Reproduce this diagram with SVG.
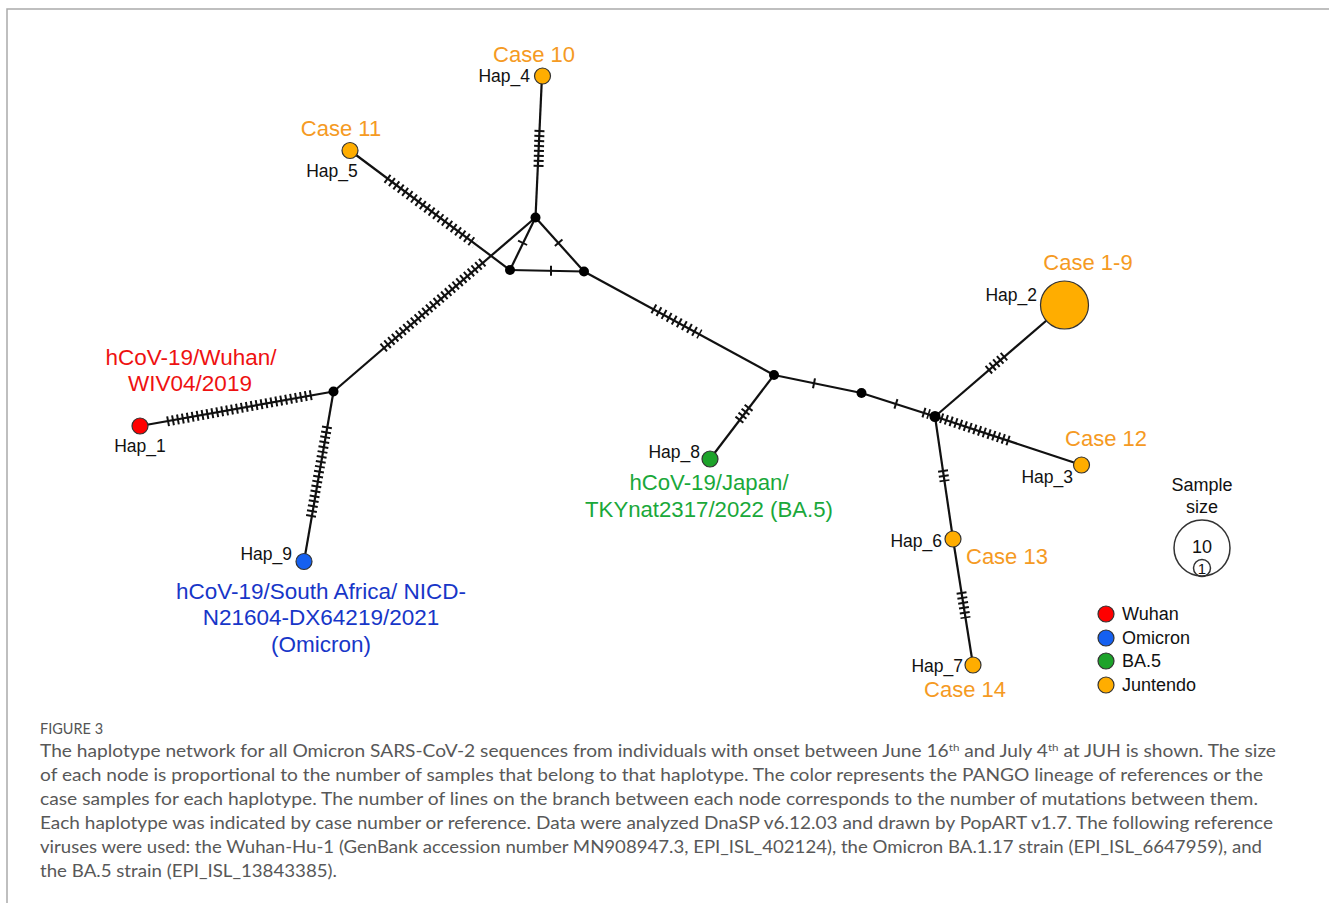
<svg xmlns="http://www.w3.org/2000/svg" width="1329" height="903" viewBox="0 0 1329 903">
<style>
.bg{fill:#fff}
.frame{fill:none;stroke:#aaa;stroke-width:1.5}
.edge{stroke:#111;stroke-width:2.2;fill:none}
.tk{stroke:#111;stroke-width:10;stroke-dasharray:2 3;fill:none}
.tk1{stroke:#111;stroke-width:10;fill:none}
.jn{fill:#000}
.hap{stroke:#333;stroke-width:1.2}
.or{fill:#FFAD00}
.rd{fill:#FF0000}
.bl{fill:#1560F0}
.gr{fill:#1DA32A}
.t{font-family:"Liberation Sans",Arial,sans-serif}
.lab{font-size:17.5px;fill:#111}
.case{font-size:22px;fill:#F59A23}
.red{font-size:22.5px;fill:#EE1111}
.blue{font-size:22.5px;fill:#1736C8}
.green{font-size:22.2px;fill:#1AA83A}
.leg{font-size:18px;fill:#111}
.cap{font-family:Lato,"Open Sans",sans-serif;font-size:16.5px;fill:#585858}
.fig{font-family:Lato,"Open Sans",sans-serif;font-size:14.5px;fill:#555}
</style>
<rect class="bg" x="0" y="0" width="1329" height="903"/>
<path class="frame" d="M7,903 V9 H1329"/>

<g id="connectors">
  <line class="edge" x1="542" y1="76" x2="535.5" y2="217.5"/>
  <line class="edge" x1="350" y1="150.5" x2="510" y2="270"/>
  <line class="edge" x1="535.5" y1="217.5" x2="333.5" y2="391.5"/>
  <line class="edge" x1="535.5" y1="217.5" x2="510" y2="270"/>
  <line class="edge" x1="535.5" y1="217.5" x2="584" y2="271.5"/>
  <line class="edge" x1="510" y1="270" x2="584" y2="271.5"/>
  <line class="edge" x1="333.5" y1="391.5" x2="140" y2="426"/>
  <line class="edge" x1="333.5" y1="391.5" x2="304" y2="561.5"/>
  <line class="edge" x1="584" y1="271.5" x2="774" y2="375"/>
  <line class="edge" x1="774" y1="375" x2="710" y2="459"/>
  <line class="edge" x1="774" y1="375" x2="861.5" y2="393"/>
  <line class="edge" x1="861.5" y1="393" x2="935" y2="416.5"/>
  <line class="edge" x1="935" y1="416.5" x2="1064.5" y2="305"/>
  <line class="edge" x1="935" y1="416.5" x2="1081.5" y2="465"/>
  <line class="edge" x1="935" y1="416.5" x2="953" y2="539"/>
  <line class="edge" x1="953" y1="539" x2="973" y2="665"/>
  <line class="tk" x1="539.5" y1="130" x2="538.5" y2="168"/>
  <line class="tk" style="stroke-dasharray:2 3.5" x1="386.7" y1="178.2" x2="475" y2="244"/>
  <line class="tk" x1="483" y1="262" x2="382" y2="349"/>
  <line class="tk" x1="311.7" y1="395" x2="166.7" y2="421.5"/>
  <line class="tk" x1="327.1" y1="426.4" x2="310.4" y2="519.6"/>
  <line class="tk" style="stroke-dasharray:2 3.8" x1="653" y1="308.4" x2="700" y2="334.3"/>
  <line class="tk" x1="749.2" y1="407" x2="737.6" y2="422"/>
  <line class="tk" x1="988.1" y1="370.4" x2="1004.7" y2="356"/>
  <line class="tk" x1="940.7" y1="417.9" x2="1010.8" y2="441.4"/>
  <line class="tk" x1="942.9" y1="470" x2="944.6" y2="481.5"/>
  <line class="tk" x1="961.4" y1="592" x2="965.6" y2="618.2"/>
  <line class="tk" x1="923" y1="412.3" x2="929.3" y2="414.3"/>
  <line class="tk1" x1="523" y1="242" x2="522.2" y2="243.7"/>
  <line class="tk1" x1="558" y1="241.9" x2="559.3" y2="243.4"/>
  <line class="tk1" x1="550" y1="270.8" x2="552" y2="270.8"/>
  <line class="tk1" x1="813" y1="383.1" x2="815" y2="383.5"/>
  <line class="tk1" x1="895" y1="403.6" x2="896.9" y2="404.2"/>
</g>

<g id="junctions">
  <circle class="jn" cx="535.5" cy="217.5" r="5"/>
  <circle class="jn" cx="510" cy="270" r="5"/>
  <circle class="jn" cx="584" cy="271.5" r="5"/>
  <circle class="jn" cx="333.5" cy="391.5" r="5"/>
  <circle class="jn" cx="774" cy="375" r="5"/>
  <circle class="jn" cx="861.5" cy="393" r="5"/>
  <circle class="jn" cx="935" cy="416.5" r="5.5"/>
</g>

<g id="hap4">
  <circle class="hap or" cx="542.5" cy="76" r="8"/>
  <text class="t case" x="534" y="62" text-anchor="middle">Case 10</text>
  <text class="t lab" x="530" y="82" text-anchor="end">Hap_4</text>
</g>
<g id="hap5">
  <circle class="hap or" cx="350" cy="150.5" r="8"/>
  <text class="t case" x="341" y="136" text-anchor="middle">Case 11</text>
  <text class="t lab" x="332" y="177" text-anchor="middle">Hap_5</text>
</g>
<g id="hap1">
  <circle class="hap rd" cx="140" cy="426" r="8"/>
  <text class="t red" x="191" y="365" text-anchor="middle">hCoV-19/Wuhan/</text>
  <text class="t red" x="190" y="391" text-anchor="middle">WIV04/2019</text>
  <text class="t lab" x="140" y="452" text-anchor="middle">Hap_1</text>
</g>
<g id="hap9">
  <circle class="hap bl" cx="304" cy="561.5" r="8"/>
  <text class="t lab" x="292" y="560" text-anchor="end">Hap_9</text>
  <text class="t blue" x="321" y="599" text-anchor="middle">hCoV-19/South Africa/ NICD-</text>
  <text class="t blue" x="321" y="625" text-anchor="middle">N21604-DX64219/2021</text>
  <text class="t blue" x="321" y="652" text-anchor="middle">(Omicron)</text>
</g>
<g id="hap8">
  <circle class="hap gr" cx="710" cy="459" r="8"/>
  <text class="t lab" x="700" y="458" text-anchor="end">Hap_8</text>
  <text class="t green" x="709" y="490" text-anchor="middle">hCoV-19/Japan/</text>
  <text class="t green" x="709" y="517" text-anchor="middle">TKYnat2317/2022 (BA.5)</text>
</g>
<g id="hap2">
  <circle class="hap or" cx="1064.5" cy="305" r="24"/>
  <text class="t case" x="1088" y="270" text-anchor="middle">Case 1-9</text>
  <text class="t lab" x="1037" y="301" text-anchor="end">Hap_2</text>
</g>
<g id="hap3">
  <circle class="hap or" cx="1081.5" cy="465" r="8"/>
  <text class="t case" x="1106" y="446" text-anchor="middle">Case 12</text>
  <text class="t lab" x="1073" y="483" text-anchor="end">Hap_3</text>
</g>
<g id="hap6">
  <circle class="hap or" cx="953" cy="539" r="8"/>
  <text class="t lab" x="942" y="547" text-anchor="end">Hap_6</text>
  <text class="t case" x="966" y="564">Case 13</text>
</g>
<g id="hap7">
  <circle class="hap or" cx="973" cy="665" r="8"/>
  <text class="t lab" x="963" y="672" text-anchor="end">Hap_7</text>
  <text class="t case" x="965" y="697" text-anchor="middle">Case 14</text>
</g>

<g id="legend-size">
  <text class="t leg" x="1202" y="491" text-anchor="middle">Sample</text>
  <text class="t leg" x="1202" y="513" text-anchor="middle">size</text>
  <circle cx="1202" cy="548" r="28" fill="none" stroke="#333" stroke-width="1.5"/>
  <circle cx="1202" cy="568" r="8.5" fill="none" stroke="#333" stroke-width="1.5"/>
  <text class="t leg" x="1202" y="553" text-anchor="middle">10</text>
  <text class="t" x="1202" y="574" text-anchor="middle" font-size="15" fill="#111">1</text>
</g>
<g id="legend-colors">
  <circle class="hap rd" cx="1106" cy="614" r="8"/>
  <text class="t leg" x="1122" y="620">Wuhan</text>
  <circle class="hap bl" cx="1106" cy="638" r="8"/>
  <text class="t leg" x="1122" y="644">Omicron</text>
  <circle class="hap gr" cx="1106" cy="661" r="8"/>
  <text class="t leg" x="1122" y="667">BA.5</text>
  <circle class="hap or" cx="1106" cy="685" r="8"/>
  <text class="t leg" x="1122" y="691">Juntendo</text>
</g>

<g id="caption">
  <text class="fig" x="40" y="734">FIGURE 3</text>
  <text class="cap" x="40" y="757" textLength="1236" lengthAdjust="spacingAndGlyphs">The haplotype network for all Omicron SARS-CoV-2 sequences from individuals with onset between June 16<tspan font-size="10" dy="-6">th</tspan><tspan dy="6"> and July 4</tspan><tspan font-size="10" dy="-6">th</tspan><tspan dy="6"> at JUH is shown. The size</tspan></text>
  <text class="cap" x="40" y="781" textLength="1223" lengthAdjust="spacingAndGlyphs">of each node is proportional to the number of samples that belong to that haplotype. The color represents the PANGO lineage of references or the</text>
  <text class="cap" x="40" y="805" textLength="1218" lengthAdjust="spacingAndGlyphs">case samples for each haplotype. The number of lines on the branch between each node corresponds to the number of mutations between them.</text>
  <text class="cap" x="40" y="829" textLength="1233" lengthAdjust="spacingAndGlyphs">Each haplotype was indicated by case number or reference. Data were analyzed DnaSP v6.12.03 and drawn by PopART v1.7. The following reference</text>
  <text class="cap" x="40" y="853" textLength="1222" lengthAdjust="spacingAndGlyphs">viruses were used: the Wuhan-Hu-1 (GenBank accession number MN908947.3, EPI_ISL_402124), the Omicron BA.1.17 strain (EPI_ISL_6647959), and</text>
  <text class="cap" x="40" y="877" textLength="297" lengthAdjust="spacingAndGlyphs">the BA.5 strain (EPI_ISL_13843385).</text>
</g>
</svg>
